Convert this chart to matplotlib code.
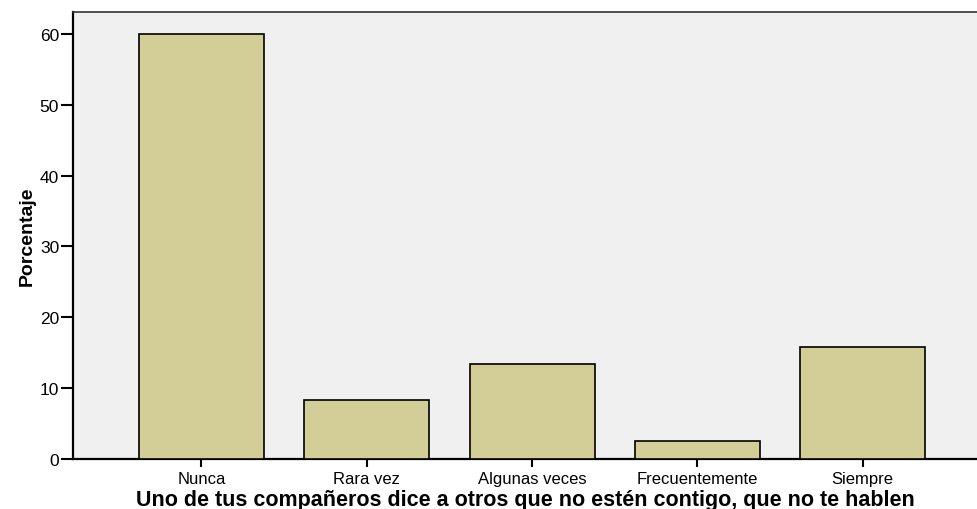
import matplotlib
matplotlib.use("Agg")
import matplotlib.pyplot as plt

categories = ["Nunca", "Rara vez", "Algunas veces", "Frecuentemente", "Siempre"]
values = [60.0, 8.35, 13.35, 2.5, 15.8]
yticks = [0, 10, 20, 30, 40, 50, 60]

plt.rcParams['font.family'] = ['Liberation Sans', 'DejaVu Sans']

W, H = 977, 510
fig = plt.figure(figsize=(W / 100, H / 100), dpi=100)
left_px, right_px, top_px, bottom_px = 73, 977, 13, 460
ax = fig.add_axes([left_px / W, 1 - bottom_px / H, (right_px - left_px) / W, (bottom_px - top_px) / H])
ax.set_facecolor("#F0F0F0")

x = list(range(len(categories)))
ax.bar(x, values, width=0.756, color="#D3CE97", edgecolor="black", linewidth=1.2, zorder=3)

ax.set_xlim(-0.777, 4.692)
ax.set_ylim(0, 63.1)
ax.set_yticks(yticks)
ax.set_xticks(x)
ax.set_xticklabels(categories, fontsize=12)
ax.tick_params(axis='y', labelsize=12.5, length=8.5, width=1.5, direction='out', pad=1.5)
ax.tick_params(axis='x', length=6, width=1.5, direction='out', pad=2.5)

for s in ["left", "bottom"]:
    ax.spines[s].set_linewidth(1.6)
ax.spines["top"].set_linewidth(1.2)
ax.spines["top"].set_color("#333333")
ax.spines["right"].set_visible(False)

ax.set_ylabel("Porcentaje", fontsize=14, fontweight="bold", labelpad=3)
ax.set_xlabel("Uno de tus compañeros dice a otros que no estén contigo, que no te hablen",
              fontsize=15.5, fontweight="bold")
ax.xaxis.set_label_coords(0.5, -0.103)
ax.xaxis.label.set_va("baseline")

fig.savefig("out.png", dpi=100)
